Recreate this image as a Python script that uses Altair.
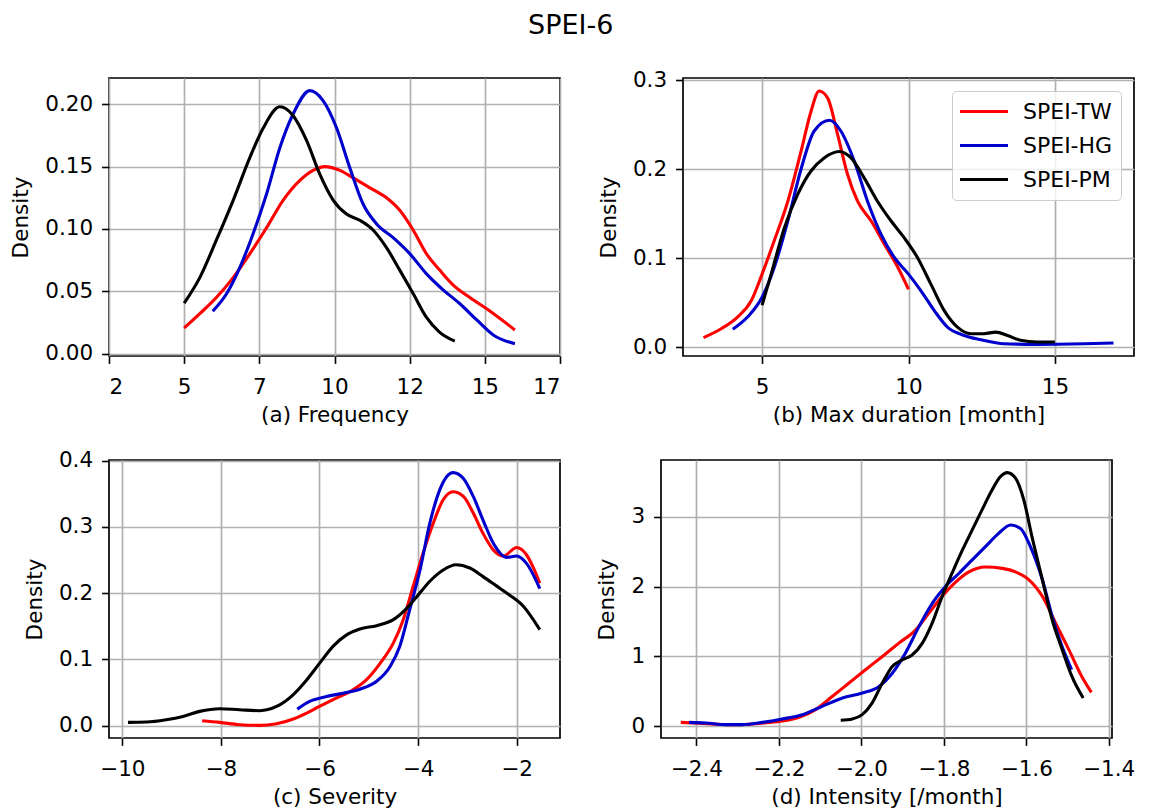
import altair as alt
import pandas as pd

SERIES = ["SPEI-TW", "SPEI-HG", "SPEI-PM"]
COLORS = ["#ff0000", "#0000cc", "#000000"]

# (a) Frequency
freq_tw_x = [5.0, 5.52, 6.07, 6.63, 7.18, 7.74, 8.29, 8.85, 9.29, 9.68, 10.18, 10.62, 11.18, 11.73, 12.17, 12.62, 13.06, 13.5, 13.95, 14.5, 15.06, 16.0]
freq_tw_y = [0.0205, 0.032, 0.045, 0.061, 0.080, 0.101, 0.123, 0.139, 0.147, 0.150, 0.147, 0.141, 0.133, 0.125, 0.115, 0.099, 0.080, 0.067, 0.055, 0.045, 0.036, 0.019]
freq_hg_x = [5.95, 6.41, 6.85, 7.29, 7.74, 8.18, 8.62, 9.18, 9.62, 10.07, 10.51, 10.95, 11.4, 11.95, 12.51, 13.06, 13.62, 14.17, 14.73, 15.28, 16.0]
freq_hg_y = [0.034, 0.048, 0.069, 0.096, 0.128, 0.165, 0.192, 0.211, 0.203, 0.181, 0.149, 0.120, 0.104, 0.093, 0.080, 0.064, 0.051, 0.040, 0.027, 0.015, 0.008]
freq_pm_x = [5.0, 5.52, 6.07, 6.63, 7.18, 7.63, 8.18, 8.62, 9.07, 9.51, 9.96, 10.4, 10.84, 11.29, 11.73, 12.17, 12.62, 13.06, 13.5, 14.0]
freq_pm_y = [0.0405, 0.061, 0.091, 0.123, 0.157, 0.181, 0.198, 0.191, 0.171, 0.144, 0.123, 0.112, 0.107, 0.099, 0.085, 0.067, 0.048, 0.029, 0.017, 0.010]

# (b) Max duration
dur_tw_x = [3.0, 3.6, 4.17, 4.63, 5.0, 5.42, 5.88, 6.33, 6.67, 6.95, 7.24, 7.58, 7.92, 8.26, 8.72, 9.17, 9.63, 10.0]
dur_tw_y = [0.0105, 0.0205, 0.034, 0.052, 0.082, 0.120, 0.164, 0.220, 0.265, 0.288, 0.280, 0.239, 0.194, 0.164, 0.142, 0.116, 0.090, 0.065]
dur_hg_x = [4.0, 4.51, 5.0, 5.42, 5.88, 6.33, 6.78, 7.3, 7.69, 8.15, 8.6, 9.06, 9.51, 10.0, 10.42, 10.88, 11.33, 11.9, 12.47, 13.26, 14.4, 16.0, 17.0]
dur_hg_y = [0.020, 0.034, 0.056, 0.090, 0.142, 0.200, 0.243, 0.255, 0.243, 0.209, 0.164, 0.127, 0.101, 0.082, 0.0635, 0.041, 0.0224, 0.013, 0.0082, 0.0037, 0.003, 0.0037, 0.0045]
dur_pm_x = [5.0, 5.31, 5.76, 6.22, 6.67, 7.13, 7.64, 8.03, 8.49, 8.94, 9.4, 9.85, 10.3, 10.76, 11.22, 11.67, 12.13, 12.58, 12.98, 13.38, 13.83, 14.4, 15.0]
dur_pm_y = [0.047, 0.082, 0.134, 0.172, 0.198, 0.213, 0.220, 0.213, 0.190, 0.164, 0.142, 0.123, 0.101, 0.071, 0.041, 0.0224, 0.015, 0.015, 0.0168, 0.013, 0.0075, 0.0056, 0.0056]

# (c) Severity
sev_tw_x = [-8.38, -8.02, -7.62, -7.21, -6.87, -6.53, -6.26, -6.0, -5.65, -5.32, -5.05, -4.77, -4.5, -4.3, -4.1, -3.9, -3.69, -3.49, -3.29, -3.08, -2.88, -2.68, -2.47, -2.27, -2.0, -1.8, -1.67, -1.53]
sev_tw_y = [0.0075, 0.005, 0.0015, 0.0005, 0.003, 0.010, 0.019, 0.029, 0.042, 0.054, 0.069, 0.094, 0.125, 0.160, 0.210, 0.260, 0.306, 0.341, 0.353, 0.346, 0.321, 0.290, 0.265, 0.256, 0.269, 0.258, 0.240, 0.215]
sev_hg_x = [-6.45, -6.2, -5.86, -5.52, -5.18, -4.84, -4.57, -4.37, -4.17, -3.96, -3.76, -3.56, -3.29, -3.08, -2.88, -2.68, -2.47, -2.2, -2.0, -1.8, -1.53]
sev_hg_y = [0.025, 0.0367, 0.044, 0.049, 0.055, 0.067, 0.089, 0.120, 0.175, 0.235, 0.306, 0.356, 0.382, 0.373, 0.346, 0.310, 0.275, 0.254, 0.256, 0.245, 0.207]
sev_pm_x = [-9.885, -9.51, -9.11, -8.77, -8.43, -8.02, -7.62, -7.21, -6.87, -6.53, -6.26, -6.0, -5.72, -5.45, -5.18, -4.84, -4.5, -4.23, -4.0, -3.76, -3.49, -3.23, -2.95, -2.68, -2.41, -2.14, -1.86, -1.53]
sev_pm_y = [0.005, 0.0055, 0.009, 0.014, 0.0216, 0.0256, 0.024, 0.0226, 0.029, 0.047, 0.069, 0.094, 0.120, 0.137, 0.146, 0.151, 0.160, 0.177, 0.197, 0.218, 0.235, 0.243, 0.238, 0.225, 0.211, 0.197, 0.180, 0.145]

# (d) Intensity
int_tw_x = [-2.438, -2.394, -2.353, -2.313, -2.272, -2.232, -2.192, -2.151, -2.111, -2.07, -2.03, -1.99, -1.949, -1.909, -1.868, -1.836, -1.804, -1.772, -1.739, -1.699, -1.658, -1.626, -1.594, -1.561, -1.529, -1.497, -1.465, -1.442]
int_tw_y = [0.057, 0.045, 0.030, 0.022, 0.030, 0.050, 0.075, 0.130, 0.238, 0.43, 0.62, 0.81, 1.0, 1.19, 1.38, 1.62, 1.86, 2.06, 2.21, 2.28, 2.26, 2.21, 2.10, 1.86, 1.48, 1.10, 0.71, 0.486]
int_hg_x = [-2.418, -2.377, -2.329, -2.289, -2.24, -2.192, -2.143, -2.095, -2.046, -1.998, -1.957, -1.925, -1.893, -1.86, -1.828, -1.796, -1.763, -1.731, -1.699, -1.667, -1.638, -1.614, -1.59, -1.561, -1.537, -1.513, -1.49]
int_hg_y = [0.057, 0.048, 0.024, 0.024, 0.057, 0.105, 0.167, 0.286, 0.405, 0.476, 0.571, 0.76, 1.05, 1.43, 1.76, 2.0, 2.19, 2.38, 2.57, 2.76, 2.88, 2.83, 2.57, 2.10, 1.57, 1.14, 0.81]
int_pm_x = [-2.05, -2.022, -1.998, -1.974, -1.949, -1.925, -1.901, -1.877, -1.852, -1.828, -1.804, -1.78, -1.755, -1.731, -1.707, -1.683, -1.663, -1.646, -1.626, -1.606, -1.586, -1.561, -1.537, -1.513, -1.489, -1.462]
int_pm_y = [0.086, 0.105, 0.167, 0.333, 0.62, 0.857, 0.95, 1.02, 1.19, 1.48, 1.86, 2.19, 2.52, 2.81, 3.10, 3.38, 3.57, 3.63, 3.55, 3.24, 2.71, 2.10, 1.52, 1.10, 0.71, 0.405]

FONT = "DejaVu Sans"
PW, PH = 451, 278


def frame(groups):
    rows = []
    for name, xs, ys in groups:
        for i, (x, y) in enumerate(zip(xs, ys)):
            rows.append({"series": name, "x": x, "y": y, "i": i})
    return pd.DataFrame(rows)


legend_b = alt.Legend(
    title=None, orient="top-right", offset=13,
    symbolType="M-2.5,0H2.5", symbolSize=400, symbolStrokeWidth=3.1,
    labelFont=FONT, labelFontSize=22, labelColor="black",
    fillColor="rgba(255,255,255,0.8)", strokeColor="#cccccc", cornerRadius=4,
    padding=8, rowPadding=9, clipHeight=25, symbolOffset=11, labelOffset=28,
)


def panel(df, xtitle, xdom, xvals, xexpr, ydom, yvals, yfmt, legend=None):
    return alt.Chart(df).mark_line(strokeWidth=3.1, interpolate="monotone", clip=True).encode(
        x=alt.X("x:Q", title=xtitle,
                scale=alt.Scale(domain=xdom, nice=False, zero=False),
                axis=alt.Axis(values=xvals, labelExpr=xexpr)),
        y=alt.Y("y:Q", title="Density",
                scale=alt.Scale(domain=ydom, nice=False, zero=False),
                axis=alt.Axis(values=yvals, format=yfmt)),
        color=alt.Color("series:N", sort=SERIES,
                        scale=alt.Scale(domain=SERIES, range=COLORS),
                        legend=legend),
        order=alt.Order("i:Q"),
    ).properties(width=PW, height=PH)


pa = panel(frame([("SPEI-TW", freq_tw_x, freq_tw_y), ("SPEI-HG", freq_hg_x, freq_hg_y), ("SPEI-PM", freq_pm_x, freq_pm_y)]),
           "(a) Frequency", [2.5, 17.5], [2.5, 5, 7.5, 10, 12.5, 15, 17.5], "format(floor(datum.value), 'd')",
           [-0.0019, 0.2211], [0, 0.05, 0.10, 0.15, 0.20], ".2f")
pb = panel(frame([("SPEI-TW", dur_tw_x, dur_tw_y), ("SPEI-HG", dur_hg_x, dur_hg_y), ("SPEI-PM", dur_pm_x, dur_pm_y)]),
           "(b) Max duration [month]", [2.3, 17.7], [5, 10, 15], "format(datum.value, 'd')",
           [-0.0101, 0.3026], [0, 0.1, 0.2, 0.3], ".1f", legend=legend_b)
pc = panel(frame([("SPEI-TW", sev_tw_x, sev_tw_y), ("SPEI-HG", sev_hg_x, sev_hg_y), ("SPEI-PM", sev_pm_x, sev_pm_y)]),
           "(c) Severity", [-10.27, -1.12], [-10, -8, -6, -4, -2], "replace(format(datum.value, 'd'), '-', '\u2212')",
           [-0.0186, 0.401], [0, 0.1, 0.2, 0.3, 0.4], ".1f")
pd_ = panel(frame([("SPEI-TW", int_tw_x, int_tw_y), ("SPEI-HG", int_hg_x, int_hg_y), ("SPEI-PM", int_pm_x, int_pm_y)]),
            "(d) Intensity [/month]", [-2.486, -1.392], [-2.4, -2.2, -2.0, -1.8, -1.6, -1.4], "replace(format(datum.value, '.1f'), '-', '\u2212')",
            [-0.167, 3.81], [0, 1, 2, 3], "d")

row1 = alt.hconcat(pa, pb, spacing=35).resolve_legend(color="independent")
row2 = alt.hconcat(pc, pd_, spacing=35).resolve_legend(color="independent")

chart = alt.vconcat(row1, row2, spacing=20).resolve_legend(color="independent").properties(
    title=alt.TitleParams("SPEI-6", font=FONT, fontSize=27, fontWeight="normal", color="black",
                          anchor="middle", offset=28, dx=-2),
    padding={"left": 9, "top": 12, "right": 5, "bottom": 5},
).configure(
    background="white"
).configure_view(
    stroke="black", strokeWidth=1.7
).configure_axis(
    grid=True, gridColor="#b0b0b0", gridWidth=1.7, domain=False,
    ticks=True, tickColor="black", tickSize=7.4, tickWidth=1.6,
    labelFont=FONT, labelFontSize=21.5, labelColor="black",
    titleFont=FONT, titleFontSize=21.5, titleFontWeight="normal", titleColor="black",
).configure_axisX(
    labelPadding=13, titlePadding=7,
).configure_axisY(
    labelPadding=9, titlePadding=12,
)

chart.save("out.html", embed_options={"renderer": "svg", "actions": False})
